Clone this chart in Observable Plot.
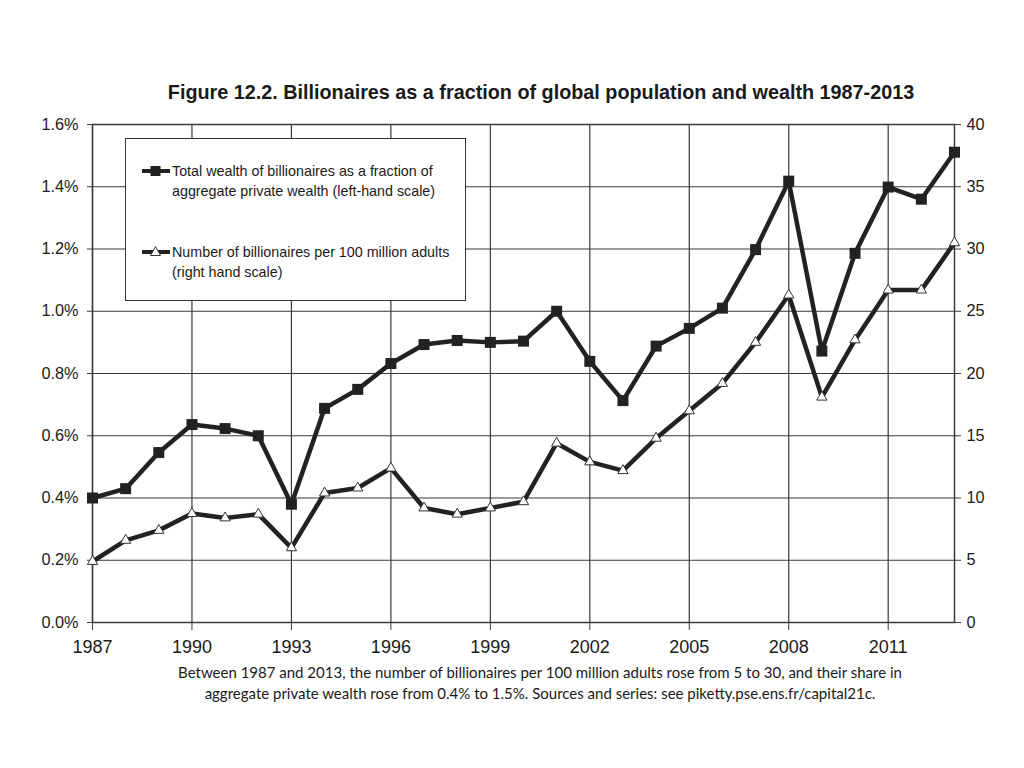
<!DOCTYPE html>
<html>
<head>
<meta charset="utf-8">
<script src="https://cdn.jsdelivr.net/npm/d3@7"></script>
<script src="https://cdn.jsdelivr.net/npm/@observablehq/plot@0.6"></script>
<style>
  html, body { margin: 0; padding: 0; background: #fff; }
  #wrap { position: relative; width: 1024px; height: 768px; overflow: hidden; }
  #title { position: absolute; top: 80px; left: 0; width: 1082px; text-align: center; line-height: 24px;
    font-family: "Liberation Sans", Arial, sans-serif; font-weight: bold; font-size: 19.8px; color: #1a1a1a; }
  #chart { position: absolute; top: 0; left: 0; }
  #legend { position: absolute; left: 125px; top: 138px; width: 341px; height: 163px;
    border: 1.5px solid #333; box-sizing: border-box; background: #fff;
    font-family: "Liberation Sans", Arial, sans-serif; font-size: 14.3px; color: #1a1a1a; line-height: 20px; }
  .entry { position: absolute; left: 14px; display: flex; align-items: flex-start; }
  .entry svg { flex: none; margin-top: 3px; }
  #caption { position: absolute; top: 662px; left: 0; width: 1080px; text-align: center;
    font-family: Lato, "Open Sans", sans-serif; font-size: 15px; line-height: 21px; color: #1a1a1a; }
</style>
</head>
<body>
<div id="wrap">
  <div id="chart"></div>
  <div id="title">Figure 12.2. Billionaires as a fraction of global population and wealth 1987-2013</div>
  <div id="legend">
    <div class="entry" style="top:22px">
      <svg width="32" height="14"><line x1="2" y1="7" x2="30" y2="7" stroke="#222" stroke-width="4"/><rect x="10.5" y="2" width="10" height="10" fill="#222"/></svg>
      <div>Total wealth of billionaires as a fraction of<br>aggregate private wealth (left-hand scale)</div>
    </div>
    <div class="entry" style="top:103px">
      <svg width="32" height="14"><line x1="2" y1="7" x2="30" y2="7" stroke="#222" stroke-width="4"/><path d="M15.5,1.5 L20.5,10.5 L10.5,10.5 Z" fill="#fff" stroke="#333" stroke-width="1"/></svg>
      <div>Number of billionaires per 100 million adults<br>(right hand scale)</div>
    </div>
  </div>
  <div id="caption">Between 1987 and 2013, the number of billionaires per 100 million adults rose from 5 to 30, and their share in<br>aggregate private wealth rose from 0.4% to 1.5%. Sources and series: see piketty.pse.ens.fr/capital21c.</div>
</div>
<script>
// Years 1987–2013
const years = [1987,1988,1989,1990,1991,1992,1993,1994,1995,1996,1997,1998,1999,2000,
               2001,2002,2003,2004,2005,2006,2007,2008,2009,2010,2011,2012,2013];
// Total wealth of billionaires as % of aggregate private wealth (left scale)
const wealthShare = [0.40,0.43,0.546,0.636,0.623,0.60,0.38,0.688,0.749,0.832,0.893,0.906,0.90,0.904,
                     1.0,0.839,0.713,0.888,0.945,1.01,1.198,1.418,0.872,1.186,1.399,1.36,1.511];
// Number of billionaires per 100 million adults (right scale)
const perHundredMillion = [4.9,6.6,7.4,8.75,8.4,8.7,6.0,10.4,10.8,12.4,9.2,8.7,9.2,9.7,
                           14.4,12.9,12.2,14.8,17.0,19.2,22.5,26.3,18.1,22.7,26.7,26.7,30.5];
const xTicks = [1987,1990,1993,1996,1999,2002,2005,2008,2011];
const leftTicks = [0,0.2,0.4,0.6,0.8,1.0,1.2,1.4,1.6];
const rightMax = 40, leftMax = 1.6;
const k = leftMax / rightMax; // maps right-hand values onto the left scale

const data = years.map((y, i) => ({year: y, share: wealthShare[i], count: perHundredMillion[i]}));

const ink = "#222";
const grid = "#3a3a3a";

const chart = Plot.plot({
  width: 1024,
  height: 700,
  marginLeft: 92,
  marginRight: 70,
  marginTop: 124,
  marginBottom: 78,
  style: {fontFamily: "'Liberation Sans', Arial, sans-serif", color: "#1a1a1a", background: "white"},
  x: {type: "linear", domain: [1987, 2013]},
  y: {domain: [0, leftMax]},
  marks: [
    Plot.gridX(xTicks, {stroke: grid, strokeOpacity: 1, strokeWidth: 1.2}),
    Plot.gridY(leftTicks, {stroke: grid, strokeOpacity: 1, strokeWidth: 1.2}),
    Plot.frame({stroke: grid, strokeWidth: 1.5}),
    Plot.axisX(xTicks, {anchor: "bottom", tickFormat: d => String(d), tickSize: 8, tickPadding: 10,
      fontSize: 18, fontFamily: "'Liberation Sans Narrow', 'Arial Narrow', 'Liberation Sans', sans-serif",
      stroke: grid, label: null}),
    Plot.axisY(leftTicks, {anchor: "left", tickFormat: d => d.toFixed(1) + "%", tickSize: 5, tickPadding: 9,
      fontSize: 16.3, stroke: grid, label: null}),
    Plot.axisY(leftTicks, {anchor: "right", tickFormat: d => String(Math.round(d / k)), tickSize: 6, tickPadding: 6,
      fontSize: 16.3, stroke: grid, label: null}),
    Plot.lineY(data, {x: "year", y: "share", stroke: ink, strokeWidth: 4.5}),
    Plot.lineY(data, {x: "year", y: d => d.count * k, stroke: ink, strokeWidth: 4.5}),
    Plot.dot(data, {x: "year", y: "share", symbol: "square", r: 6.2, fill: ink, stroke: "none"}),
    Plot.dot(data, {x: "year", y: d => d.count * k, symbol: "triangle", r: 3.8, fill: "white", stroke: "#333", strokeWidth: 1})
  ]
});
document.getElementById("chart").appendChild(chart);
</script>
</body>
</html>
